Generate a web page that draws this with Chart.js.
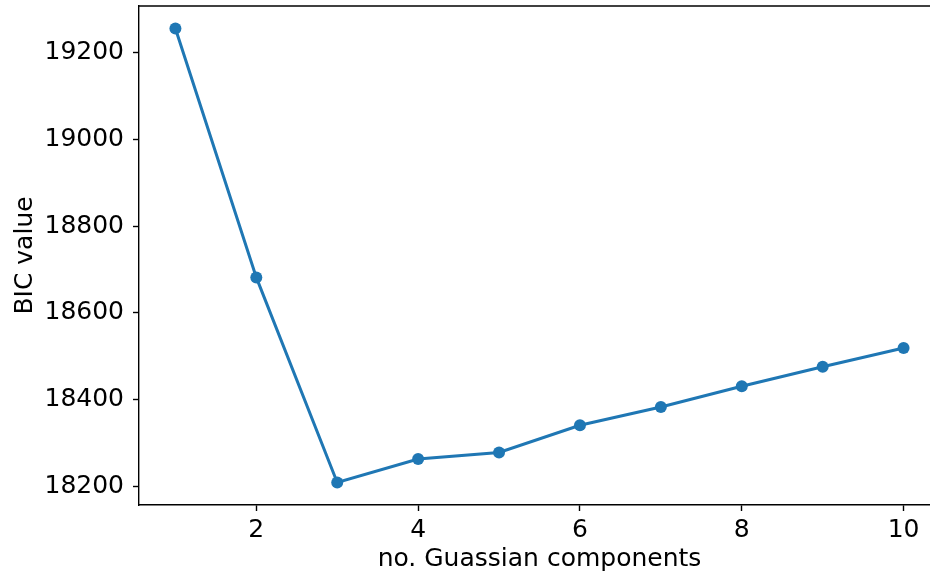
<!DOCTYPE html>
<html>
<head>
<meta charset="utf-8">
<script src="https://cdn.jsdelivr.net/npm/chart.js@4"></script>
<style>
  html, body { margin: 0; padding: 0; background: #fff; overflow: hidden; }
  #wrap { width: 930px; height: 576px; overflow: hidden; }
  #wrap div { width: 960px; height: 576px; }
</style>
</head>
<body>
<div id="wrap"><div><canvas id="myChart" width="960" height="576"></canvas></div></div>
<script>
// BIC dla kolejnych liczb komponentów
const components = [1, 2, 3, 4, 5, 6, 7, 8, 9, 10];
const bicValues = [19256, 18682, 18209, 18263, 18278, 18341, 18383, 18431, 18476, 18519];
const xTicks = [2, 4, 6, 8, 10];
const yTicks = [18200, 18400, 18600, 18800, 19000, 19200];

const blue = '#1f77b4';
const font = { family: 'DejaVu Sans', size: 25 };

// górna krawędź ramki wykresu
const framePlugin = {
    id: 'frame',
    afterDraw(chart) {
        const { ctx, chartArea } = chart;
        ctx.save();
        ctx.strokeStyle = '#000';
        ctx.lineWidth = 1.4;
        ctx.beginPath();
        ctx.moveTo(chartArea.left, chartArea.top);
        ctx.lineTo(chartArea.right, chartArea.top);
        ctx.stroke();
        ctx.restore();
    }
};

const ctx = document.getElementById('myChart').getContext('2d');
const myChart = new Chart(ctx, {
    type: 'line',
    data: {
        datasets: [{
            label: 'BIC',
            data: components.map((c, i) => ({ x: c, y: bicValues[i] })),
            borderColor: blue,
            backgroundColor: blue,
            borderWidth: 3,
            pointRadius: 6,
            pointBorderWidth: 0,
            pointBackgroundColor: blue,
            tension: 0
        }]
    },
    options: {
        responsive: false,
        animation: false,
        layout: { padding: { left: 0, top: 6, right: 20, bottom: 0 } },
        plugins: { legend: { display: false }, tooltip: { enabled: false } },
        scales: {
            x: {
                type: 'linear',
                min: 0.55,
                max: 10.45,
                afterBuildTicks: s => { s.ticks = xTicks.map(v => ({ value: v })); },
                afterFit: s => { s.height = 71; s.paddingLeft = 0; s.paddingRight = 0; },
                grid: { display: true, drawOnChartArea: false, tickLength: 6, tickColor: '#000', tickWidth: 1.4 },
                border: { color: '#000', width: 1.4 },
                ticks: { color: '#000', font: font, padding: 4, maxRotation: 0, callback: v => String(v) },
                title: { display: true, text: 'no. Guassian components', color: '#000', font: font, padding: { top: 0, bottom: 2 } }
            },
            y: {
                min: 18157,
                max: 19308,
                afterBuildTicks: s => { s.ticks = yTicks.map(v => ({ value: v })); },
                afterFit: s => { s.width = 139; s.paddingTop = 0; s.paddingBottom = 0; },
                grid: { display: true, drawOnChartArea: false, tickLength: 6, tickColor: '#000', tickWidth: 1.4 },
                border: { color: '#000', width: 1.4 },
                ticks: { color: '#000', font: font, padding: 9, callback: v => String(v) },
                title: { display: true, text: 'BIC value', color: '#000', font: font, padding: { top: 10, bottom: 0 } }
            }
        }
    },
    plugins: [framePlugin]
});
</script>
</body>
</html>
